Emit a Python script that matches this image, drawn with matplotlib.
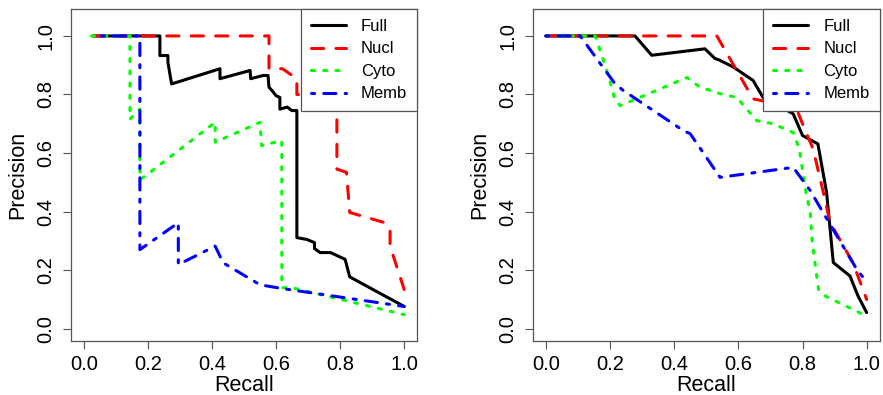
import matplotlib
matplotlib.use("Agg")
import matplotlib.pyplot as plt

plt.rcParams['font.family'] = ['Liberation Sans', 'DejaVu Sans']

labels = ["Full", "Nucl", "Cyto", "Memb"]
colors = ["#000000", "#FF0000", "#00FF00", "#0000FF"]

# Left panel
full_l_x = [0.03, 0.2375, 0.2375, 0.2625, 0.2625, 0.274, 0.425, 0.425, 0.519, 0.521, 0.56, 0.575, 0.578, 0.59, 0.60, 0.612, 0.612, 0.635, 0.649, 0.665, 0.665, 0.696, 0.72, 0.72, 0.7375, 0.77, 0.8156, 0.83, 1.0]
full_l_y = [1.0, 1.0, 0.933, 0.933, 0.91, 0.836, 0.888, 0.854, 0.882, 0.854, 0.865, 0.865, 0.825, 0.81, 0.796, 0.79, 0.75, 0.757, 0.745, 0.745, 0.311, 0.305, 0.294, 0.274, 0.26, 0.26, 0.237, 0.177, 0.076]
nucl_l_x = [0.03, 0.578, 0.578, 0.62, 0.665, 0.665, 0.79, 0.79, 0.82, 0.83, 0.94, 0.956, 0.956, 1.0]
nucl_l_y = [1.0, 1.0, 0.888, 0.888, 0.854, 0.80, 0.79, 0.545, 0.534, 0.397, 0.362, 0.34, 0.282, 0.134]
cyto_l_x = [0.024, 0.144, 0.144, 0.175, 0.175, 0.19, 0.41, 0.41, 0.55, 0.555, 0.618, 0.618, 0.65, 1.0]
cyto_l_y = [1.0, 1.0, 0.716, 0.75, 0.51, 0.52, 0.705, 0.637, 0.705, 0.625, 0.643, 0.14, 0.14, 0.048]
memb_l_x = [0.055, 0.175, 0.175, 0.295, 0.295, 0.41, 0.435, 0.55, 0.62, 1.0]
memb_l_y = [1.0, 1.0, 0.27, 0.362, 0.219, 0.282, 0.225, 0.15, 0.137, 0.076]

# Right panel
full_r_x = [0.0, 0.278, 0.33, 0.496, 0.527, 0.54, 0.584, 0.646, 0.677, 0.72, 0.771, 0.8, 0.848, 0.875, 0.896, 0.948, 0.973, 1.0]
full_r_y = [1.0, 1.0, 0.934, 0.956, 0.923, 0.918, 0.894, 0.848, 0.79, 0.765, 0.734, 0.66, 0.631, 0.466, 0.226, 0.18, 0.112, 0.055]
nucl_r_x = [0.0, 0.533, 0.646, 0.78, 0.80, 0.833, 0.864, 0.886, 0.957, 1.0]
nucl_r_y = [1.0, 1.0, 0.785, 0.755, 0.70, 0.614, 0.47, 0.363, 0.226, 0.1]
cyto_r_x = [0.0, 0.154, 0.195, 0.216, 0.232, 0.44, 0.48, 0.552, 0.595, 0.657, 0.708, 0.771, 0.79, 0.811, 0.824, 0.83, 0.85, 0.87, 1.0]
cyto_r_y = [1.0, 1.0, 0.865, 0.78, 0.762, 0.858, 0.825, 0.80, 0.79, 0.711, 0.70, 0.67, 0.614, 0.465, 0.397, 0.30, 0.134, 0.112, 0.043]
memb_r_x = [0.0, 0.107, 0.216, 0.241, 0.428, 0.45, 0.543, 0.771, 0.824, 0.864, 0.969, 1.0]
memb_r_y = [1.0, 1.0, 0.836, 0.814, 0.677, 0.666, 0.517, 0.551, 0.472, 0.397, 0.203, 0.16]

ticks = [0.0, 0.2, 0.4, 0.6, 0.8, 1.0]
tick_labels = ["0.0", "0.2", "0.4", "0.6", "0.8", "1.0"]

styles = [None, (4, 4), (1, 3), (1, 3, 4, 3)]
LW = 2.2

fig = plt.figure(figsize=(8.83, 3.95), dpi=100)
ax1 = fig.add_axes([71/883, 54/395, 346/883, 332/395])
ax2 = fig.add_axes([533/883, 54/395, 346.5/883, 332/395])

panels = [
    (ax1, [(full_l_x, full_l_y), (nucl_l_x, nucl_l_y), (cyto_l_x, cyto_l_y), (memb_l_x, memb_l_y)]),
    (ax2, [(full_r_x, full_r_y), (nucl_r_x, nucl_r_y), (cyto_r_x, cyto_r_y), (memb_r_x, memb_r_y)]),
]

for ax, series in panels:
    handles = []
    for (xs, ys), lab, col, st in zip(series, labels, colors, styles):
        if st is None:
            ln, = ax.plot(xs, ys, color=col, lw=LW, label=lab,
                          solid_capstyle='round', solid_joinstyle='round')
        else:
            ln, = ax.plot(xs, ys, color=col, lw=LW, label=lab,
                          dash_capstyle='round', dash_joinstyle='round')
            ln.set_dashes(st)
        handles.append(ln)
    ax.set_xlim(-0.04, 1.04)
    ax.set_ylim(-0.042, 1.092)
    ax.set_xticks(ticks)
    ax.set_xticklabels(tick_labels, fontsize=14.5)
    ax.set_yticks(ticks)
    ax.set_yticklabels(tick_labels, fontsize=14.5, rotation=90, va='center')
    ax.tick_params(direction='out', length=6, width=0.8, color='#555555', pad=4)
    ax.tick_params(axis='y', pad=5)
    for sp in ax.spines.values():
        sp.set_color('#555555')
        sp.set_linewidth(0.9)
    ax.set_xlabel("Recall", fontsize=15.5, labelpad=1)
    ax.set_ylabel("Precision", fontsize=15.5, labelpad=6)
    leg = ax.legend(handles=handles, loc='upper right', fontsize=12,
                    frameon=True, fancybox=False, framealpha=1.0,
                    edgecolor='#555555', borderaxespad=0.0,
                    handlelength=2.1, handletextpad=0.9, labelspacing=0.45,
                    borderpad=0.6)
    leg.get_frame().set_linewidth(0.9)

fig.savefig("out.png", dpi=100)
